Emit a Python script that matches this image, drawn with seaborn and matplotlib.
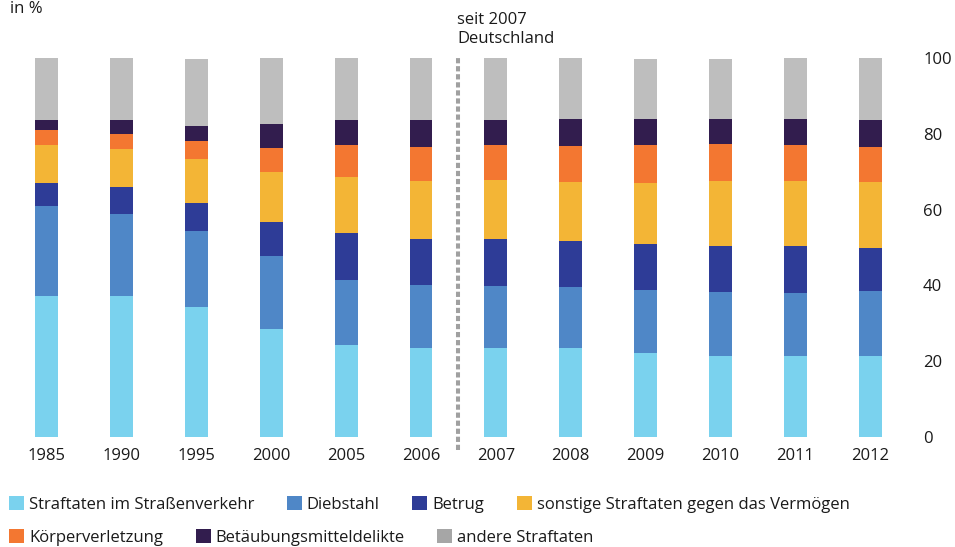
import matplotlib
matplotlib.use("Agg")
import matplotlib.pyplot as plt
from matplotlib.patches import Patch
import seaborn as sns
import pandas as pd
import numpy as np

# ---------------- data ----------------
years = ["1985", "1990", "1995", "2000", "2005", "2006",
         "2007", "2008", "2009", "2010", "2011", "2012"]
categories = ["Straftaten im Straßenverkehr", "Diebstahl", "Betrug",
              "sonstige Straftaten gegen das Vermögen", "Körperverletzung",
              "Betäubungsmitteldelikte", "andere Straftaten"]
strassenverkehr = [37.2, 37.2, 34.3, 28.5, 24.3, 23.5, 23.5, 23.5, 22.2, 21.4, 21.4, 21.4]
diebstahl       = [23.7, 21.6, 20.1, 19.3, 17.1, 16.6, 16.3, 16.1, 16.6, 16.9, 16.6, 17.1]
betrug          = [6.1, 7.2, 7.3, 8.9, 12.4, 12.1, 12.4, 12.1, 12.1, 12.1, 12.4, 11.4]
sonstige        = [10.0, 10.0, 11.7, 13.2, 14.8, 15.3, 15.6, 15.6, 16.1, 17.1, 17.1, 17.4]
koerper         = [4.0, 3.9, 4.7, 6.4, 8.4, 9.0, 9.2, 9.5, 10.0, 9.8, 9.5, 9.2]
betaeubung      = [2.6, 3.7, 4.0, 6.3, 6.6, 7.1, 6.6, 7.1, 6.9, 6.6, 6.9, 7.1]
andere          = [16.4, 16.4, 17.6, 17.4, 16.4, 16.4, 16.4, 16.1, 15.8, 15.8, 16.1, 16.4]
series = [strassenverkehr, diebstahl, betrug, sonstige, koerper, betaeubung, andere]
yticks = [0, 20, 40, 60, 80, 100]

# ---------------- styles ----------------
bar_colors = ["#7AD2EE", "#4F87C7", "#2E3C97", "#F3B536", "#F37731", "#321D4E", "#BEBEBE"]
legend_colors = ["#7AD2EE", "#4F87C7", "#2E3C97", "#F3B536", "#F37731", "#321D4E", "#A6A6A6"]
text_color = "#1A1A1A"

sns.set_theme(style="white")
plt.rcParams["font.family"] = ["Open Sans", "DejaVu Sans"]
plt.rcParams["text.color"] = text_color
plt.rcParams["xtick.color"] = text_color
plt.rcParams["ytick.color"] = text_color
FS = 12

W, H = 955, 547
fig = plt.figure(figsize=(W / 100, H / 100), dpi=100)
ax_right = 905
ax = fig.add_axes([0, 1 - 437 / H, ax_right / W, (437 - 58) / H])

df = pd.DataFrame({"year": years})
bottom = np.zeros(len(years))
for cat, vals, col in zip(categories, series, bar_colors):
    df[cat] = vals
    sns.barplot(data=df, x="year", y=cat, order=years, color=col,
                width=0.307, bottom=bottom, ax=ax, saturation=1,
                linewidth=0, errorbar=None)
    bottom = bottom + np.array(vals)

# axis scaling: category i center at 46.5 + 74.9*i px
px0, step = 46.5, 74.9
ax.set_xlim((0 - px0) / step, (ax_right - px0) / step)
ax.set_ylim(0, 100)
ax.set_xlabel("")
ax.set_ylabel("")
for s in ax.spines.values():
    s.set_visible(False)
ax.yaxis.tick_right()
ax.set_yticks(yticks)
ax.set_yticklabels([str(t) for t in yticks])
ax.tick_params(axis="y", length=0, pad=13, labelsize=FS)
ax.tick_params(axis="x", length=0, pad=8, labelsize=FS)
ax.grid(False)

# dotted separator between 2006 and 2007
ax.plot([5.5, 5.5], [-3.4, 100], color="#A0A0A0", lw=2.9,
        linestyle=(0, (1.3, 0.7)), clip_on=False, solid_capstyle="butt")

fig.text(457 / W, 1 - 47 / H, "seit 2007\nDeutschland", fontsize=FS,
         ha="left", va="bottom", linespacing=1.25)
fig.text(10 / W, 1 - 1 / H, "in %", fontsize=FS, ha="left", va="top")

# legend in two rows
handles = [Patch(facecolor=c, edgecolor="none") for c in legend_colors]
common = dict(frameon=False, fontsize=FS, handlelength=0.9, handleheight=0.9,
              handletextpad=0.3, columnspacing=1.95, borderpad=0,
              borderaxespad=0, loc="center left")
fig.legend(handles[:4], categories[:4], ncol=4,
           bbox_to_anchor=(9 / W, 1 - 504.5 / H), **common)
fig.legend(handles[4:], categories[4:], ncol=3,
           bbox_to_anchor=(9 / W, 1 - 537.5 / H), **common)

fig.savefig("out.png", dpi=100)
